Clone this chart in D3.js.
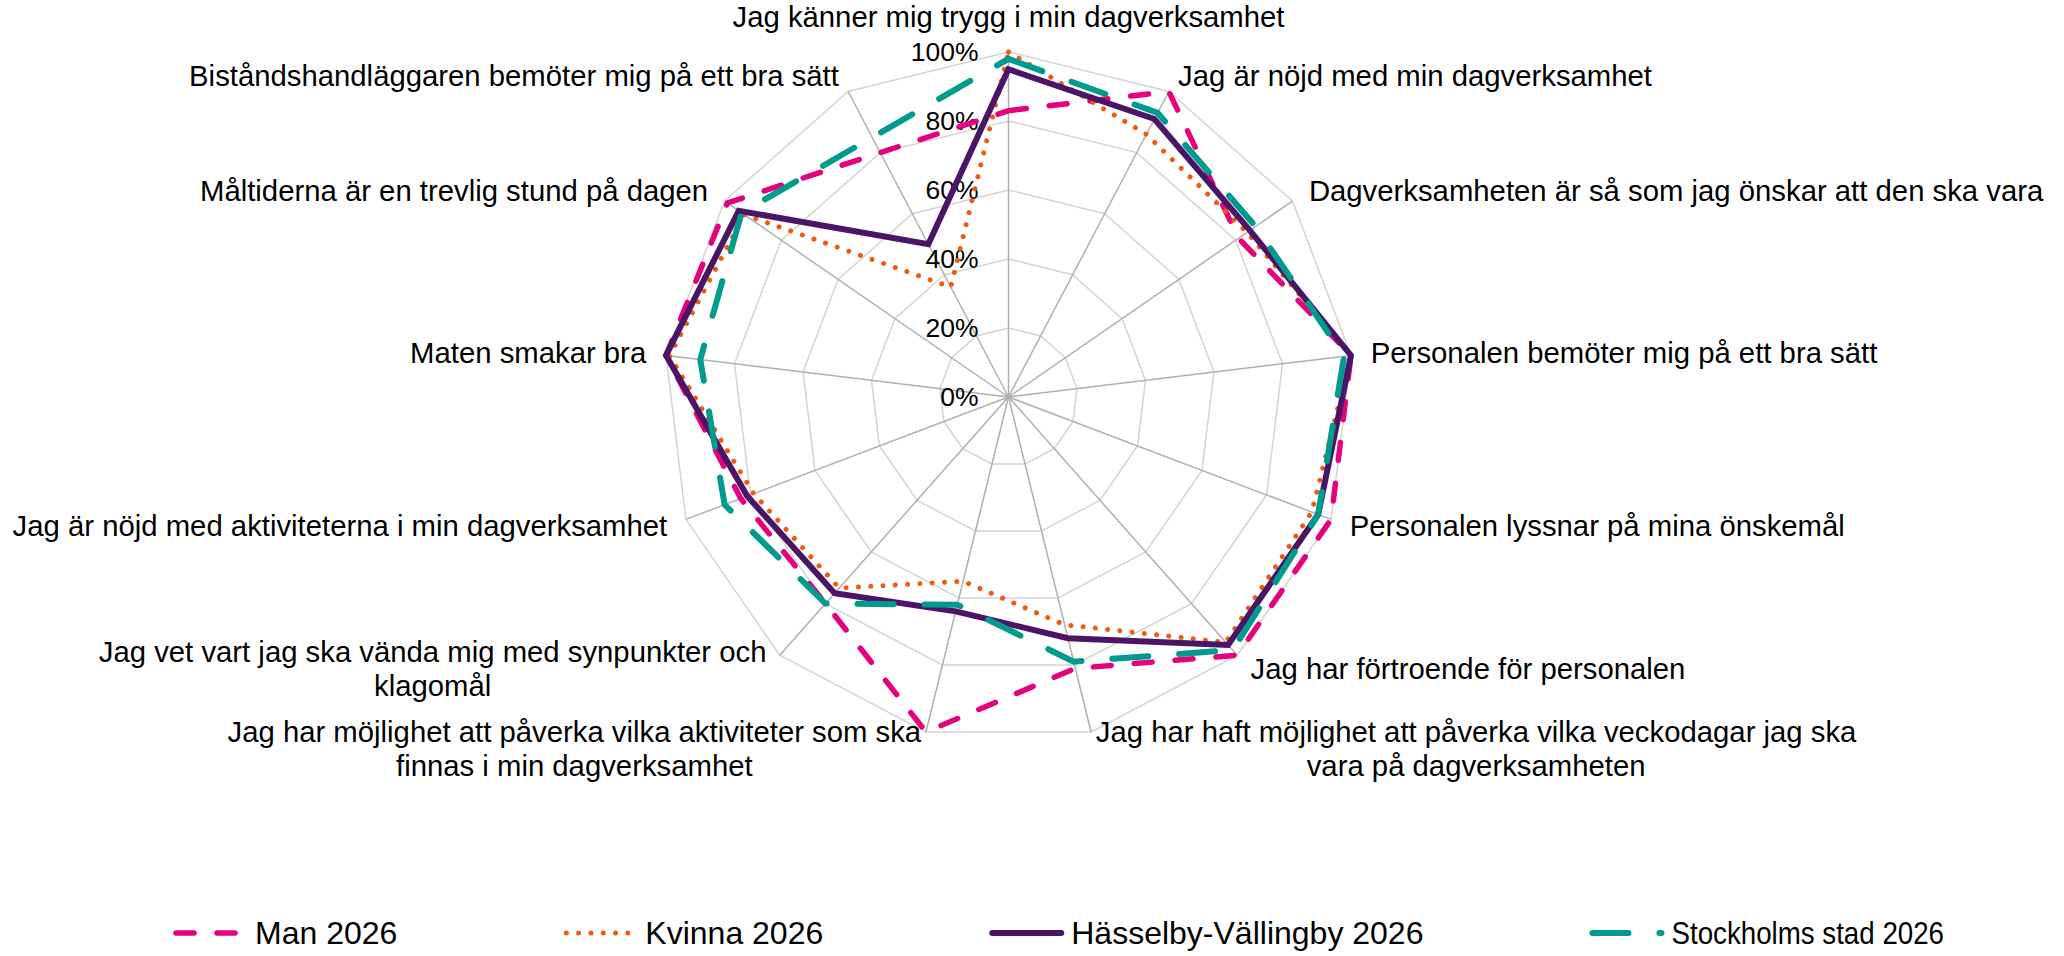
<!DOCTYPE html>
<html>
<head>
<meta charset="utf-8">
<style>body{margin:0;background:#fff}</style>
</head>
<body>
<svg width="2064" height="956" font-family="Liberation Sans, Arial, sans-serif"></svg>
<script src="https://d3js.org/d3.v7.min.js"></script>
<script>

    // categories, clockwise from the top ("\n" = where the label wraps)
    var categories = [
        "Jag känner mig trygg i min dagverksamhet",
        "Jag är nöjd med min dagverksamhet",
        "Dagverksamheten är så som jag önskar att den ska vara",
        "Personalen bemöter mig på ett bra sätt",
        "Personalen lyssnar på mina önskemål",
        "Jag har förtroende för personalen",
        "Jag har haft möjlighet att påverka vilka veckodagar jag ska\nvara på dagverksamheten",
        "Jag har möjlighet att påverka vilka aktiviteter som ska\nfinnas i min dagverksamhet",
        "Jag vet vart jag ska vända mig med synpunkter och\nklagomål",
        "Jag är nöjd med aktiviteterna i min dagverksamhet",
        "Maten smakar bra",
        "Måltiderna är en trevlig stund på dagen",
        "Biståndshandläggaren bemöter mig på ett bra sätt"
    ];

    var man2026       = [83, 100, 81, 100, 100, 100, 81, 100, 80, 83, 100, 99, 80];
    var kvinna2026    = [100, 86, 84, 100, 94, 95, 68, 55, 74, 79, 99, 93, 36];
    var hasselby2026  = [95, 91, 85, 100, 96, 96, 72, 64, 76, 81, 100, 95, 50];
    var stockholm2026 = [98, 93, 87, 98, 96, 98, 79, 62, 80, 88, 90, 94, 85];

    var seriesNames = ["Man 2026", "Kvinna 2026", "Hässelby-Vällingby 2026", "Stockholms stad 2026"];
    var ticks = [0, 20, 40, 60, 80, 100];

    var series = [
        {name: seriesNames[0], values: man2026,       color: "#E6007E", width: 5.5, dash: "18 23"},
        {name: seriesNames[1], values: kvinna2026,    color: "#EE5A12", width: 5,   dash: "0.01 12.3"},
        {name: seriesNames[2], values: hasselby2026,  color: "#4B1466", width: 6,   dash: null},
        {name: seriesNames[3], values: stockholm2026, color: "#009B8F", width: 6,   dash: "36 31"}
    ];

    var svg = d3.select("svg"),
        cx = 1008.5, cy = 397, R = 345;

    svg.append("rect").attr("width", 2064).attr("height", 956).attr("fill", "#fff");

    var n = categories.length;
    var r = d3.scaleLinear().domain([0, 100]).range([0, R]);
    var angle = d3.scaleLinear().domain([0, n]).range([0, 2 * Math.PI]);

    var g = svg.append("g").attr("transform", "translate(" + cx + "," + cy + ")");

    // rings
    ticks.slice(1).forEach(function(t) {
        g.append("path")
            .attr("d", d3.lineRadial()
                .angle(function(d, i) { return angle(i); })
                .radius(r(t))
                .curve(d3.curveLinearClosed)(categories))
            .attr("fill", "none")
            .attr("stroke", "#D4D4D4")
            .attr("stroke-width", 1.5);
    });

    // spokes
    g.selectAll(".spoke")
        .data(categories)
        .enter().append("line")
        .attr("x1", 0).attr("y1", 0)
        .attr("x2", function(d, i) { return Math.sin(angle(i)) * r(100); })
        .attr("y2", function(d, i) { return -Math.cos(angle(i)) * r(100); })
        .attr("stroke", "#B0B0B0")
        .attr("stroke-width", 1.5);

    // tick labels
    g.selectAll(".tick")
        .data(ticks)
        .enter().append("text")
        .attr("x", -30)
        .attr("y", function(d) { return -r(d); })
        .attr("dy", "0.35em")
        .attr("text-anchor", "end")
        .attr("font-size", 26.5)
        .attr("fill", "#000")
        .text(function(d) { return d + "%"; });

    // series
    var radial = d3.lineRadial()
        .angle(function(d, i) { return angle(i); })
        .radius(function(d) { return r(d); })
        .curve(d3.curveLinearClosed);

    series.forEach(function(s) {
        g.append("path")
            .attr("d", radial(s.values))
            .attr("fill", "none")
            .attr("stroke", s.color)
            .attr("stroke-width", s.width)
            .attr("stroke-linejoin", "miter")
            .attr("stroke-linecap", s.dash ? "round" : "butt")
            .attr("stroke-dasharray", s.dash);
    });

    // category labels
    var lineH = 34;
    categories.forEach(function(c, i) {
        var a = angle(i),
            sx = Math.sin(a), sy = -Math.cos(a),
            vx = sx * r(100), vy = sy * r(100),
            lines = c.split("\n");
        var side = Math.abs(sx) < 0.1 ? 0 : (sx > 0 ? 1 : -1);
        var t = g.append("text").attr("font-size", 29.3).attr("fill", "#000").attr("text-anchor", "middle");
        var spans = lines.map(function(l) { return t.append("tspan").text(l); });
        var maxW = d3.max(spans, function(sp) { return sp.node().getComputedTextLength(); });
        var edge = vx + sx * 20;
        var mx = side === 0 ? vx : (side > 0 ? edge + maxW / 2 : edge - maxW / 2);
        var m = 18 + (side === 0 ? 17 : 0);
        var my = vy + sy * m;
        spans.forEach(function(sp, k) {
            sp.attr("x", mx).attr("y", my + (k - (lines.length - 1) / 2) * lineH + 10);
        });
    });

    // legend (text squeezed if it would pass the right limit, as in the original)
    var lx = 173, ly = 933, legendRight = 1944;
    series.forEach(function(s) {
        svg.append("line")
            .attr("x1", lx + 3).attr("x2", lx + 72)
            .attr("y1", ly).attr("y2", ly)
            .attr("stroke", s.color)
            .attr("stroke-width", s.width)
            .attr("stroke-linecap", "round")
            .attr("stroke-dasharray", s.dash);
        var t = svg.append("text")
            .attr("x", lx + 82).attr("y", ly)
            .attr("dy", "0.35em")
            .attr("font-size", 32)
            .attr("fill", "#000")
            .text(s.name);
        var w = t.node().getComputedTextLength();
        if (lx + 82 + w > legendRight) {
            w = legendRight - lx - 82;
            t.attr("textLength", w).attr("lengthAdjust", "spacingAndGlyphs");
        }
        lx += 82 + w + 166;
    });

</script>
</body>
</html>
